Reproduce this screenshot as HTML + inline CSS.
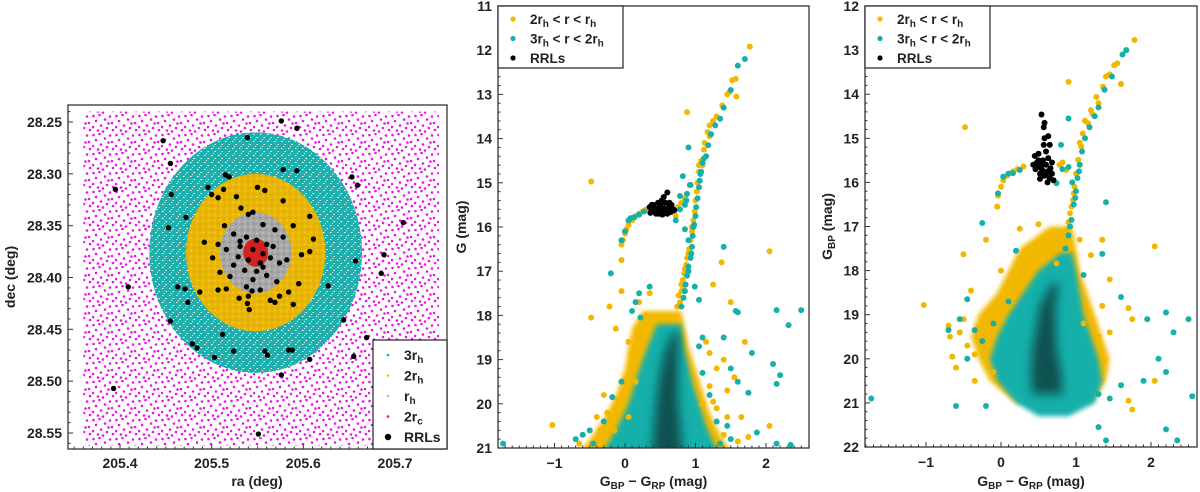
<!DOCTYPE html>
<html><head><meta charset="utf-8"><style>
html,body{margin:0;padding:0;background:#fff;}
svg{display:block;font-family:"Liberation Sans",sans-serif;font-weight:bold;}
</style></head><body>
<svg id="fig" width="1200" height="492" viewBox="0 0 1200 492" xmlns="http://www.w3.org/2000/svg">
<defs>
 <pattern id="magPat" width="23" height="19" patternUnits="userSpaceOnUse">
  <circle cx="1.5" cy="2" r="1.3" fill="#ee11ee"/><circle cx="7.5" cy="1" r="1.3" fill="#ee11ee"/>
  <circle cx="13" cy="5.5" r="1.3" fill="#ee11ee"/><circle cx="4" cy="7" r="1.3" fill="#ee11ee"/>
  <circle cx="1" cy="13" r="1.3" fill="#ee11ee"/><circle cx="9" cy="11.5" r="1.3" fill="#ee11ee"/>
  <circle cx="18" cy="2.5" r="1.3" fill="#ee11ee"/><circle cx="20" cy="9" r="1.3" fill="#ee11ee"/>
  <circle cx="15" cy="14" r="1.3" fill="#ee11ee"/><circle cx="6" cy="16.5" r="1.3" fill="#ee11ee"/>
  <circle cx="21" cy="16" r="1.3" fill="#ee11ee"/><circle cx="11" cy="17.5" r="1.3" fill="#ee11ee"/>
  <circle cx="16.5" cy="9.5" r="1.3" fill="#ee11ee"/>
 </pattern>
 <pattern id="cyanPat" width="7" height="7" patternUnits="userSpaceOnUse">
  <rect width="7" height="7" fill="#1fb0ad"/>
  <rect x="1" y="1" width="1.5" height="1" fill="#fff"/><rect x="4.5" y="4" width="1.5" height="1" fill="#fff"/>
  <rect x="3" y="6" width="1" height="1" fill="#dff"/>
 </pattern>
 <pattern id="yelPat" width="6" height="6" patternUnits="userSpaceOnUse">
  <rect width="6" height="6" fill="#eab606"/><circle cx="2" cy="2" r="1" fill="#d9a600"/><circle cx="5" cy="4.5" r="0.9" fill="#f7cb30"/>
 </pattern>
 <pattern id="grayPat" width="6" height="6" patternUnits="userSpaceOnUse">
  <rect width="6" height="6" fill="#a8a8a8"/><circle cx="2" cy="2" r="1" fill="#8c8c8c"/><circle cx="5" cy="5" r="0.9" fill="#c4c4c4"/>
 </pattern>
 <filter id="blur" x="-50%" y="-50%" width="200%" height="200%"><feGaussianBlur stdDeviation="5"/></filter>
 <filter id="blur2" x="-50%" y="-50%" width="200%" height="200%"><feGaussianBlur stdDeviation="2.5"/></filter>
 <clipPath id="c1"><rect x="68" y="105" width="379" height="344"/></clipPath>
 <clipPath id="c2"><rect x="498" y="6" width="311" height="442"/></clipPath>
 <clipPath id="c3"><rect x="865" y="6" width="332" height="441"/></clipPath>
</defs>
</svg>
<script>
// ---------------- Panel 1 data (sky map) ----------------
const clusterCenter = [205.548, 28.376];
const radiiDeg = [0.116, 0.076, 0.039, 0.0136]; // 3rh, 2rh, rh, 2rc
const rrlRa = [205.576,205.593,205.447,205.539,205.455,205.578,205.593,205.653,205.659,205.395,205.456,205.515,205.519,205.496,205.513,205.550,205.558,205.500,205.507,205.527,205.578,205.532,205.472,205.607,205.709,205.453,205.589,205.514,205.611,205.492,205.507,205.607,205.688,205.598,205.657,205.501,205.509,205.685,205.409,205.463,205.471,205.627,205.507,205.516,205.487,205.595,205.474,205.530,205.539,205.540,205.564,205.569,205.574,205.584,205.589,205.541,205.455,205.644,205.512,205.669,205.479,205.484,205.524,205.558,205.561,205.584,205.588,205.655,205.503,205.607,205.576,205.393,205.551,
205.540,205.545,205.556,205.569,205.524,205.538,205.549,205.560,205.516,205.531,205.545,205.556,205.567,205.578,205.529,205.540,205.553,205.564,205.574,205.524,205.536,205.549,205.560,205.571,205.545,205.538,205.553,205.544,205.520,205.582,205.531,205.556];
const rrlDec = [28.249,28.256,28.268,28.265,28.290,28.296,28.297,28.303,28.311,28.315,28.320,28.301,28.303,28.313,28.315,28.313,28.316,28.320,28.323,28.322,28.326,28.333,28.342,28.341,28.347,28.352,28.350,28.350,28.363,28.366,28.368,28.375,28.378,28.378,28.384,28.381,28.395,28.396,28.409,28.409,28.411,28.408,28.412,28.411,28.414,28.406,28.424,28.420,28.425,28.418,28.422,28.424,28.418,28.414,28.426,28.431,28.442,28.441,28.455,28.458,28.464,28.468,28.471,28.471,28.475,28.470,28.470,28.476,28.477,28.479,28.494,28.507,28.551,
28.339,28.337,28.349,28.354,28.358,28.361,28.364,28.368,28.373,28.370,28.373,28.377,28.370,28.361,28.380,28.383,28.386,28.381,28.386,28.388,28.393,28.394,28.398,28.404,28.402,28.409,28.412,28.413,28.399,28.383,28.365,28.390];
const raTicks = [205.4, 205.5, 205.6, 205.7];
const decTicks = [28.25, 28.30, 28.35, 28.40, 28.45, 28.50, 28.55];

// ---------------- Panel 2 data (G vs BP-RP) ----------------
const p2YelRgb = [[1.77,11.92],[1.57,12.65],[1.52,12.68],[1.48,12.95],[1.45,13.0],[1.58,13.05],[1.38,13.25],[1.30,13.5],[1.25,13.6],[1.17,13.85],[1.20,13.95],[1.13,14.1],[1.12,14.25],[1.08,14.5],[1.10,14.6],[1.05,14.75],[1.03,15.0],[1.02,15.2],[1.00,15.4],[0.99,15.65],[0.97,15.85],[0.95,16.1],[0.93,16.3],[0.91,16.5],[0.88,16.7],[0.85,16.95],[0.82,17.2],[0.80,17.45],[0.78,17.7],[0.88,13.4],[1.37,16.8],[2.05,16.55],[1.25,17.3],[1.5,17.7],[0.90,16.6],[0.87,16.85],[0.84,17.05],[0.80,17.3],[0.76,17.55],[0.74,17.8],[0.83,17.35],[0.95,16.0],[1.05,14.6],[1.2,13.7]];
const p2CyanRgb = [[1.70,12.2],[1.60,12.35],[1.50,12.9],[1.40,13.3],[1.35,13.55],[1.28,13.7],[1.22,13.9],[1.18,14.15],[1.15,14.4],[1.10,14.55],[1.08,14.75],[1.06,14.95],[1.05,15.1],[1.03,15.35],[1.01,15.55],[1.00,15.75],[0.98,15.95],[0.96,16.2],[0.95,16.45],[0.93,16.7],[0.90,16.9],[0.88,17.1],[0.86,17.3],[0.83,17.6],[0.90,14.2],[0.82,14.85],[0.93,15.05],[0.78,15.3],[0.85,16.05],[1.40,16.45],[1.57,17.9],[0.99,17.35],[1.05,17.65],[0.97,16.0],[0.94,16.6],[0.9,17.0],[0.85,17.45],[0.8,17.8],[1.07,14.8],[1.12,14.45]];
const p2YelHb = [[-0.05,16.4],[-0.03,16.3],[0.0,16.15],[0.02,16.05],[0.05,15.95],[0.1,15.85],[0.15,15.75],[0.2,15.7],[0.25,15.65],[0.3,15.6],[0.72,15.75],[0.75,15.55],[0.8,15.45],[0.85,15.35]];
const p2CyanHb = [[-0.05,16.3],[0.0,16.1],[0.05,15.85],[0.08,15.8],[0.13,15.78],[0.2,15.72],[0.27,15.65],[0.72,15.85],[0.78,15.6],[0.85,15.5],[0.87,15.4],[0.92,15.05],[0.88,15.25]];
const p2Rrl = [[0.35,15.55],[0.38,15.62],[0.4,15.5],[0.42,15.65],[0.45,15.58],[0.48,15.62],[0.5,15.5],[0.52,15.66],[0.55,15.58],[0.57,15.45],[0.6,15.62],[0.62,15.55],[0.65,15.66],[0.67,15.58],[0.7,15.62],[0.36,15.68],[0.44,15.7],[0.53,15.72],[0.6,15.7],[0.55,15.32],[0.6,15.22],[0.52,15.4],[0.47,15.45],[0.63,15.45],[0.4,15.6],[0.38,15.5],[0.66,15.5],[0.48,15.7],[0.58,15.68]];
const p2YelSparse = [[-0.48,14.97],[-0.05,16.75],[-0.05,17.45],[-0.22,17.8],[-0.48,18.05],[-0.13,18.3],[-1.03,20.48],[0.0,19.45],[0.05,18.6],[0.1,18.9],[0.15,19.5],[1.7,18.6],[1.45,19.7],[2.05,20.5],[1.75,20.75],[1.6,20.85],[1.4,19.0],[1.3,19.2],[1.2,18.85],[1.1,20.0],[1.55,19.4],[1.45,20.3],[-0.3,19.8],[-0.4,20.3],[-0.65,20.9],[1.65,20.3],[0.35,17.5],[0.2,17.7],[0.3,18.0],[0.1,19.1],[-0.1,19.9],[-0.25,20.2],[-0.35,20.6],[1.2,19.6],[1.3,20.1],[1.4,20.7],[1.15,18.6],[1.25,19.95],[-0.15,20.6],[0.05,20.3]];
const p2CyanSparse = [[-1.73,20.9],[-0.6,20.7],[-0.2,17.05],[0.1,17.9],[0.2,17.5],[0.35,17.35],[-0.05,19.5],[-0.18,19.85],[1.4,18.5],[1.6,17.93],[1.8,18.85],[2.15,17.88],[2.32,18.22],[2.5,17.88],[2.1,19.1],[2.2,19.35],[2.15,19.55],[1.6,19.5],[1.75,19.75],[1.5,19.2],[1.87,20.65],[2.15,20.9],[2.35,20.93],[1.3,20.4],[1.45,20.5],[-0.45,20.9],[-0.7,20.8],[0.9,16.3],[1.1,18.5],[0.15,17.7],[0.22,18.05],[1.05,18.7],[1.1,19.3],[1.2,19.8],[-0.3,20.4],[-0.5,20.6],[1.35,20.9],[1.5,20.8]];
const p2YelEnvMag = [17.9,18.3,18.7,19.2,19.7,20.2,20.7,21.2];
const p2YelEnvL = [0.25,0.1,0.05,0.0,-0.1,-0.25,-0.45,-0.7];
const p2YelEnvR = [0.8,0.85,0.9,1.0,1.1,1.2,1.35,1.55];
const p2CyanEnvMag = [18.2,18.6,19.0,19.5,20.0,20.5,21.2];
const p2CyanEnvL = [0.45,0.35,0.25,0.15,0.05,-0.1,-0.35];
const p2CyanEnvR = [0.8,0.82,0.88,0.95,1.05,1.15,1.35];
const p2CoreMag = [18.4,18.9,19.4,19.9,20.4,21.2];
const p2CoreC = [0.72,0.65,0.62,0.6,0.6,0.6];
const p2CoreW = [0.05,0.1,0.13,0.15,0.18,0.22];
const cmdXTicks = [-1, 0, 1, 2];
const p2YTicks = [11,12,13,14,15,16,17,18,19,20,21];

// ---------------- Panel 3 data (BP vs BP-RP) ----------------
const p3YelRgb = [[1.78,12.77],[1.67,13.0],[1.55,13.3],[1.51,13.34],[1.45,13.55],[1.40,13.6],[1.60,13.77],[1.36,13.83],[1.27,14.06],[1.30,14.2],[1.20,14.36],[1.22,14.45],[1.16,14.66],[1.09,14.89],[1.05,15.1],[1.07,15.19],[1.03,15.49],[1.0,15.8],[0.98,16.1],[0.96,16.4],[0.92,16.7],[0.87,17.08],[0.81,17.46],[0.74,17.84],[0.9,13.72],[1.12,14.6],[0.97,16.25],[0.94,16.55],[0.9,16.9]];
const p3CyanRgb = [[1.67,13.0],[1.62,13.1],[1.48,13.6],[1.38,13.9],[1.30,14.3],[1.25,14.5],[1.18,14.75],[1.12,15.0],[1.08,15.3],[1.05,15.6],[1.02,15.9],[1.0,16.2],[0.97,16.5],[0.94,16.85],[0.90,17.2],[0.86,17.5],[0.82,17.9],[0.8,15.15],[0.9,14.55],[0.95,16.0],[1.04,15.75],[0.99,16.35],[0.92,17.0]];
const p3YelHb = [[-0.04,16.3],[0.0,16.1],[0.03,15.95],[0.08,15.85],[0.16,15.75],[0.22,15.7],[0.3,15.64],[0.78,15.6],[0.87,15.72],[0.82,15.55],[-0.05,16.55]];
const p3CyanHb = [[-0.04,16.25],[0.03,15.87],[0.1,15.8],[0.16,15.79],[0.25,15.72],[0.74,16.02],[0.82,15.7],[0.9,15.65]];
const p3Rrl = [[0.43,15.6],[0.46,15.7],[0.5,15.65],[0.52,15.8],[0.55,15.72],[0.58,15.85],[0.6,15.6],[0.62,15.75],[0.65,15.9],[0.68,15.8],[0.7,15.95],[0.48,15.55],[0.56,15.5],[0.63,15.45],[0.6,15.3],[0.57,15.15],[0.65,15.15],[0.58,15.0],[0.63,14.95],[0.57,14.75],[0.54,14.46],[0.58,14.65],[0.45,15.4],[0.5,15.35],[0.68,15.55],[0.62,16.0],[0.52,15.92],[0.55,15.6],[0.6,15.82],[0.66,15.68],[0.5,15.5]];
const p3YelSparse = [[-0.48,14.75],[-1.03,18.78],[-0.7,19.25],[-0.65,19.95],[-0.6,20.2],[-0.35,20.5],[-0.4,18.45],[-0.5,17.63],[-0.2,17.3],[-0.05,16.55],[0.25,17.05],[0.5,16.95],[1.6,13.77],[1.05,17.3],[1.2,17.65],[1.35,17.3],[1.45,18.2],[1.35,18.8],[1.7,18.85],[1.75,19.1],[2.05,17.45],[2.05,20.5],[1.7,20.95],[1.75,21.15],[1.3,19.5],[1.45,19.4],[1.1,19.2],[-0.68,19.5],[-0.55,19.4],[-0.45,19.7],[-0.3,19.3],[-0.2,19.0],[-0.35,19.9],[-0.15,18.9],[0.1,18.3],[0.0,18.0],[-0.1,20.3],[-0.5,19.1]];
const p3CyanSparse = [[-1.73,20.9],[-0.6,21.07],[-0.2,21.07],[-0.25,16.92],[0.2,17.55],[0.1,18.7],[-0.45,18.65],[-0.55,19.1],[-0.7,19.35],[1.4,16.45],[1.35,17.62],[1.6,18.6],[1.95,19.1],[2.2,18.95],[2.5,19.1],[2.3,19.4],[2.1,20.0],[2.2,20.3],[2.55,20.85],[2.2,21.6],[2.35,21.85],[1.4,21.85],[1.3,21.55],[1.9,20.5],[1.6,20.6],[1.1,18.1],[-0.35,19.35],[-0.25,19.6],[-0.45,20.0],[-0.1,19.2],[1.3,20.8],[1.45,20.9]];
const p3YelEnvMag = [17.0,17.5,18.0,18.5,19.0,19.5,20.0,20.5,21.0];
const p3YelEnvL = [0.65,0.25,0.1,-0.05,-0.3,-0.4,-0.3,-0.15,0.2];
const p3YelEnvR = [0.95,1.0,1.05,1.15,1.25,1.35,1.45,1.4,1.2];
const p3CyanEnvMag = [17.6,18.0,18.5,19.0,19.5,20.0,20.5,21.0,21.3];
const p3CyanEnvL = [0.8,0.5,0.3,0.1,-0.05,-0.15,-0.05,0.2,0.5];
const p3CyanEnvR = [0.95,1.0,1.05,1.1,1.2,1.3,1.35,1.25,0.9];
const p3CoreMag = [18.3,18.8,19.3,19.8,20.3,20.8];
const p3CoreC = [0.72,0.62,0.6,0.58,0.6,0.62];
const p3CoreW = [0.05,0.1,0.13,0.16,0.2,0.2];
const p3YTicks = [12,13,14,15,16,17,18,19,20,21,22];

const YEL = "#f2b800", CYAN = "#16b0ab";
const NS = "http://www.w3.org/2000/svg";
const fig = document.getElementById('fig');
function mk(tag, attrs, parent){ const e=document.createElementNS(NS,tag); for(const k in attrs) e.setAttribute(k,attrs[k]); (parent||fig).appendChild(e); return e; }
function lin(d0,d1,r0,r1){ return v => r0 + (v-d0)*(r1-r0)/(d1-d0); }

// ---------- Panel 1 ----------
const x1 = lin(205.4,205.7,120,395), y1 = lin(28.25,28.55,122,433);
const g1 = mk('g',{'clip-path':'url(#c1)'});


const field = mk('rect',{x:x1(205.36),y:y1(28.24),width:x1(205.748)-x1(205.36),height:y1(28.562)-y1(28.24),fill:'url(#magPat)'},g1);


const ringFills = ['url(#cyanPat)','url(#yelPat)','url(#grayPat)','#d42020'];
const ringNames = ['ring-3rh','ring-2rh','ring-rh','ring-2rc'];
radiiDeg.forEach((r,i)=>{
  const e = mk('ellipse',{cx:x1(clusterCenter[0]),cy:y1(clusterCenter[1]),rx:x1(clusterCenter[0]+r)-x1(clusterCenter[0]),ry:y1(clusterCenter[1]+r)-y1(clusterCenter[1]),fill:ringFills[i]},g1);
  
  
});
rrlRa.forEach((ra,i)=>{
  const c = mk('circle',{cx:x1(ra),cy:y1(rrlDec[i]),r:2.7,fill:'#000'},g1);
  
  
});
const frame1 = mk('rect',{x:68,y:105,width:379,height:344,fill:'none',stroke:'#333','stroke-width':1.3});


for(let v=205.35; v<=205.751; v+=0.01){ const X=x1(v); const major=raTicks.some(t=>Math.abs(t-v)<1e-6); mk('line',{x1:X,x2:X,y1:449,y2:449-(major?5:2.5),stroke:'#333','stroke-width':1}); }
raTicks.forEach(t=>{ const tx=mk('text',{x:x1(t),y:468,'text-anchor':'middle','font-size':14,fill:'#222'}); tx.textContent=t.toFixed(1);
    });
for(let v=28.24; v<=28.561; v+=0.01){ const Y=y1(v); const major=decTicks.some(t=>Math.abs(t-v)<1e-6); mk('line',{x1:68,x2:68+(major?5:2.5),y1:Y,y2:Y,stroke:'#333','stroke-width':1}); }
decTicks.forEach(t=>{ const tx=mk('text',{x:62,y:y1(t)+5,'text-anchor':'end','font-size':14,fill:'#222'}); tx.textContent=t.toFixed(2);
    });
let t = mk('text',{x:257,y:486,'text-anchor':'middle','font-size':14,fill:'#222'}); t.textContent='ra (deg)';
 
t = mk('text',{x:15,y:277,'text-anchor':'middle','font-size':14,fill:'#222',transform:'rotate(-90 15 277)'}); t.textContent='dec (deg)';
 
const lg1 = mk('g',{});  
mk('rect',{x:373,y:340,width:74,height:109,fill:'#fff',stroke:'#222','stroke-width':1.2},lg1);
const l1Labels=[['3r','h'],['2r','h'],['r','h'],['2r','c'],['RRLs','']];
const l1Cols=[CYAN,YEL,'#bbb','#e02020','#000'];
l1Labels.forEach((lb,i)=>{ const yy=355+i*20.5;
  const m = mk('circle',{cx:388,cy:yy,r:i==4?3.2:1.3,fill:l1Cols[i]},lg1);
   
  const tx=mk('text',{x:404,y:yy+5,'font-size':14,fill:'#222'},lg1); tx.textContent=lb[0];
  if(lb[1]){ const s=mk('tspan',{dy:3,'font-size':10},tx); s.textContent=lb[1]; }
   
});

// ---------- CMD helper ----------
function cmd(opt){
  const xs = lin(0,1,opt.x0,opt.x1), ys = lin(opt.m0,opt.m0+1,opt.y0,opt.y0+opt.pm);
  const g = mk('g',{'clip-path':opt.clip});
  
  
  function env(mags,L,R,fill,name,filt){
    let d='M'+mags.map((m,i)=>xs(L[i])+','+ys(m)).join(' L');
    d+=' L'+mags.slice().reverse().map((m,i)=>xs(R[mags.length-1-i])+','+ys(m)).join(' L')+' Z';
    const p=mk('path',{d:d,fill:fill},g); if(filt) p.setAttribute('filter',filt);
      return p;
  }
  env(opt.yMag,opt.yL,opt.yR,YEL,'yellow-dense-region','url(#blur2)');
  env(opt.cMag,opt.cL,opt.cR,CYAN,'cyan-dense-region','url(#blur2)');
  const coreL=opt.coreC.map((c,i)=>c-opt.coreW[i]), coreR=opt.coreC.map((c,i)=>c+opt.coreW[i]);
  const core=env(opt.coreMag,coreL,coreR,'#0c3f3f','dense-core','url(#blur)'); core.setAttribute('opacity','0.85');
  function pts(arr,col,name,r){ arr.forEach(p=>{ const c=mk('circle',{cx:xs(p[0]),cy:ys(p[1]),r:r,fill:col},g);
      }); }
  pts(opt.ySparse,YEL,'yellow-star',3); pts(opt.yRgb,YEL,'yellow-star',3); pts(opt.yHb,YEL,'yellow-star',3);
  pts(opt.cSparse,CYAN,'cyan-star',3); pts(opt.cRgb,CYAN,'cyan-star',3); pts(opt.cHb,CYAN,'cyan-star',3);
  pts(opt.rrl,'#000','rrl-star',3);
  const frame=mk('rect',{x:opt.left,y:opt.top,width:opt.right-opt.left,height:opt.bottom-opt.top,fill:'none',stroke:'#333','stroke-width':1.3});
   
  for(let v=-1.8; v<=2.6; v+=0.1){ const X=xs(v); if(X<opt.left||X>opt.right) continue; const major=cmdXTicks.some(tk=>Math.abs(tk-v)<1e-6);
    mk('line',{x1:X,x2:X,y1:opt.bottom,y2:opt.bottom-(major?5:2.5),stroke:'#333','stroke-width':1}); }
  cmdXTicks.forEach(tk=>{ const tx=mk('text',{x:xs(tk),y:opt.bottom+20,'text-anchor':'middle','font-size':14,fill:'#222'}); tx.textContent=tk<0?'\u2212'+Math.abs(tk):String(tk);
      });
  for(let v=opt.yTicks[0]; v<=opt.yTicks[opt.yTicks.length-1]+1e-6; v+=0.2){ const Y=ys(v); const major=Math.abs(v-Math.round(v))<1e-6;
    mk('line',{x1:opt.left,x2:opt.left+(major?5:2.5),y1:Y,y2:Y,stroke:'#333','stroke-width':1}); }
  opt.yTicks.forEach(tk=>{ const tx=mk('text',{x:opt.left-6,y:ys(tk)+5,'text-anchor':'end','font-size':14,fill:'#222'}); tx.textContent=String(tk);
      });
  const xt=mk('text',{x:(opt.left+opt.right)/2,y:486,'text-anchor':'middle','font-size':14,fill:'#222'});
   
  xt.appendChild(document.createTextNode('G'));
  let s=mk('tspan',{dy:3,'font-size':10},xt); s.textContent='BP';
  s=mk('tspan',{dy:-3},xt); s.textContent=' \u2212 G';
  s=mk('tspan',{dy:3,'font-size':10},xt); s.textContent='RP';
  s=mk('tspan',{dy:-3},xt); s.textContent=' (mag)';
  const cy=(opt.top+opt.bottom)/2;
  const yt=mk('text',{x:opt.ytx,y:cy,'text-anchor':'middle','font-size':14,fill:'#222',transform:'rotate(-90 '+opt.ytx+' '+cy+')'});
   
  yt.appendChild(document.createTextNode('G'));
  if(opt.bp){ s=mk('tspan',{dy:3,'font-size':10},yt); s.textContent='BP'; s=mk('tspan',{dy:-3},yt); s.textContent=' (mag)'; }
  else { s=mk('tspan',{},yt); s.textContent=' (mag)'; }
  const lg=mk('g',{});  
  mk('rect',{x:opt.left,y:opt.top,width:125,height:62,fill:'#fff',stroke:'#222','stroke-width':1.2},lg);
  const rows=[[YEL,['2r','h',' < r < r','h']],[CYAN,['3r','h',' < r < 2r','h']],['#000',['RRLs']]];
  rows.forEach((rw,i)=>{ const yy=opt.top+13+i*19.5;
    const m=mk('circle',{cx:opt.left+15,cy:yy,r:2.6,fill:rw[0]},lg);
     
    const tx=mk('text',{x:opt.left+32,y:yy+5,'font-size':13.5,fill:'#222'},lg);
     
    rw[1].forEach((part,k)=>{ const sp=mk('tspan',k%2? {dy:3,'font-size':10}:{dy:k?-3:0},tx); sp.textContent=part; });
  });
}
cmd({name:'g-cmd',clip:'url(#c2)',x0:625,x1:695.5,m0:11,y0:6,pm:44.2,left:498,right:809,top:6,bottom:448,ytx:466,bp:false,
  yTicks:p2YTicks,yMag:p2YelEnvMag,yL:p2YelEnvL,yR:p2YelEnvR,cMag:p2CyanEnvMag,cL:p2CyanEnvL,cR:p2CyanEnvR,
  coreMag:p2CoreMag,coreC:p2CoreC,coreW:p2CoreW,ySparse:p2YelSparse,yRgb:p2YelRgb,yHb:p2YelHb,cSparse:p2CyanSparse,cRgb:p2CyanRgb,cHb:p2CyanHb,rrl:p2Rrl});
cmd({name:'bp-cmd',clip:'url(#c3)',x0:1001,x1:1076,m0:12,y0:6,pm:44.1,left:865,right:1197,top:6,bottom:447,ytx:832,bp:true,
  yTicks:p3YTicks,yMag:p3YelEnvMag,yL:p3YelEnvL,yR:p3YelEnvR,cMag:p3CyanEnvMag,cL:p3CyanEnvL,cR:p3CyanEnvR,
  coreMag:p3CoreMag,coreC:p3CoreC,coreW:p3CoreW,ySparse:p3YelSparse,yRgb:p3YelRgb,yHb:p3YelHb,cSparse:p3CyanSparse,cRgb:p3CyanRgb,cHb:p3CyanHb,rrl:p3Rrl});
</script>
</body></html>
